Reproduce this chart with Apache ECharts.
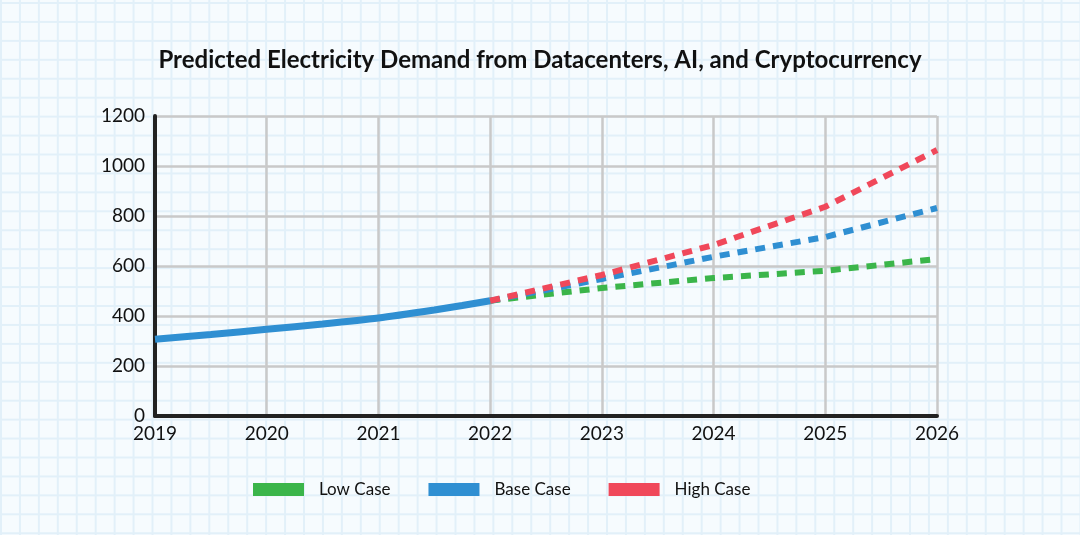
<!DOCTYPE html>
<html>
<head>
<meta charset="utf-8">
<script src="https://cdn.jsdelivr.net/npm/echarts@6/dist/echarts.min.js"></script>
<style>
  html, body { margin: 0; padding: 0; }
  body {
    width: 1080px; height: 535px; overflow: hidden;
    background-color: #f6fbfe;
    background-image:
      linear-gradient(to right, #e2f0f9 1.5px, transparent 1.5px),
      linear-gradient(to bottom, #e2f0f9 1.5px, transparent 1.5px);
    background-size: 18.95px 18.95px;
    background-position: 0px 2px;
  }
  #chart { width: 1080px; height: 535px; }
</style>
</head>
<body>
<div id="chart"></div>
<script>
const titleText = 'Predicted Electricity Demand from Datacenters, AI, and Cryptocurrency';
const xTicks = [2019, 2020, 2021, 2022, 2023, 2024, 2025, 2026];
const yTicks = [0, 200, 400, 600, 800, 1000, 1200];

const historyYears = [2019, 2019.5, 2020, 2020.5, 2021, 2021.5, 2021.75, 2022];
const historyValues = [307, 326, 347, 368, 392, 424, 442, 461];

const forecastYears = [2022, 2023, 2024, 2025, 2026];
const lowCase = [461, 512, 552, 581, 628];
const baseCase = [461, 548, 637, 716, 832];
const highCase = [461, 564, 684, 837, 1064];

const seriesNames = ['Low Case', 'Base Case', 'High Case'];
const colors = { low: '#3bb54a', base: '#2f8fd2', high: '#f0485a' };

const pairs = (xs, ys) => xs.map((x, i) => [x, ys[i]]);
const font = 'Lato, "Open Sans", sans-serif';

const dashed = (name, data, color) => ({
  name, type: 'line', data: pairs(forecastYears, data),
  symbol: 'none', color,
  lineStyle: { color, width: 6, type: [10, 8], cap: 'butt' },
  z: 3
});

const chart = echarts.init(document.getElementById('chart'), null, { renderer: 'canvas' });
chart.setOption({
  backgroundColor: 'transparent',
  animation: false,
  textStyle: { fontFamily: font },
  title: {
    text: titleText, left: 'center', top: 43,
    textStyle: { fontFamily: font, fontSize: 24, fontWeight: 'bold', color: '#111' }
  },
  grid: { left: 155, right: 143, top: 116, bottom: 119 },
  xAxis: {
    type: 'value', min: xTicks[0], max: xTicks[xTicks.length - 1], interval: 1,
    axisLine: { show: true, lineStyle: { color: '#222', width: 4 } },
    axisTick: { show: false },
    axisLabel: { formatter: v => String(v), fontSize: 19, color: '#111', margin: 8, fontFamily: font },
    splitLine: { show: true, lineStyle: { color: '#c9c9c9', width: 2.5 } }
  },
  yAxis: {
    type: 'value', min: yTicks[0], max: yTicks[yTicks.length - 1], interval: 200,
    axisLine: { show: true, lineStyle: { color: '#222', width: 4 } },
    axisTick: { show: false },
    axisLabel: { formatter: v => String(v), fontSize: 19, color: '#111', margin: 10, fontFamily: font },
    splitLine: { show: true, lineStyle: { color: '#c9c9c9', width: 2.5 } }
  },
  legend: {
    data: seriesNames, left: 248, top: 476,
    icon: 'rect', itemWidth: 51, itemHeight: 13, itemGap: 38,
    textStyle: { fontSize: 17, color: '#111', padding: [0, 0, 0, 10], fontFamily: font }
  },
  series: [
    {
      name: 'Historical', type: 'line', data: pairs(historyYears, historyValues),
      symbol: 'none', smooth: 0.2, color: colors.base,
      lineStyle: { color: colors.base, width: 7 }, z: 2
    },
    dashed(seriesNames[0], lowCase, colors.low),
    dashed(seriesNames[1], baseCase, colors.base),
    dashed(seriesNames[2], highCase, colors.high)
  ]
});
</script>
</body>
</html>
